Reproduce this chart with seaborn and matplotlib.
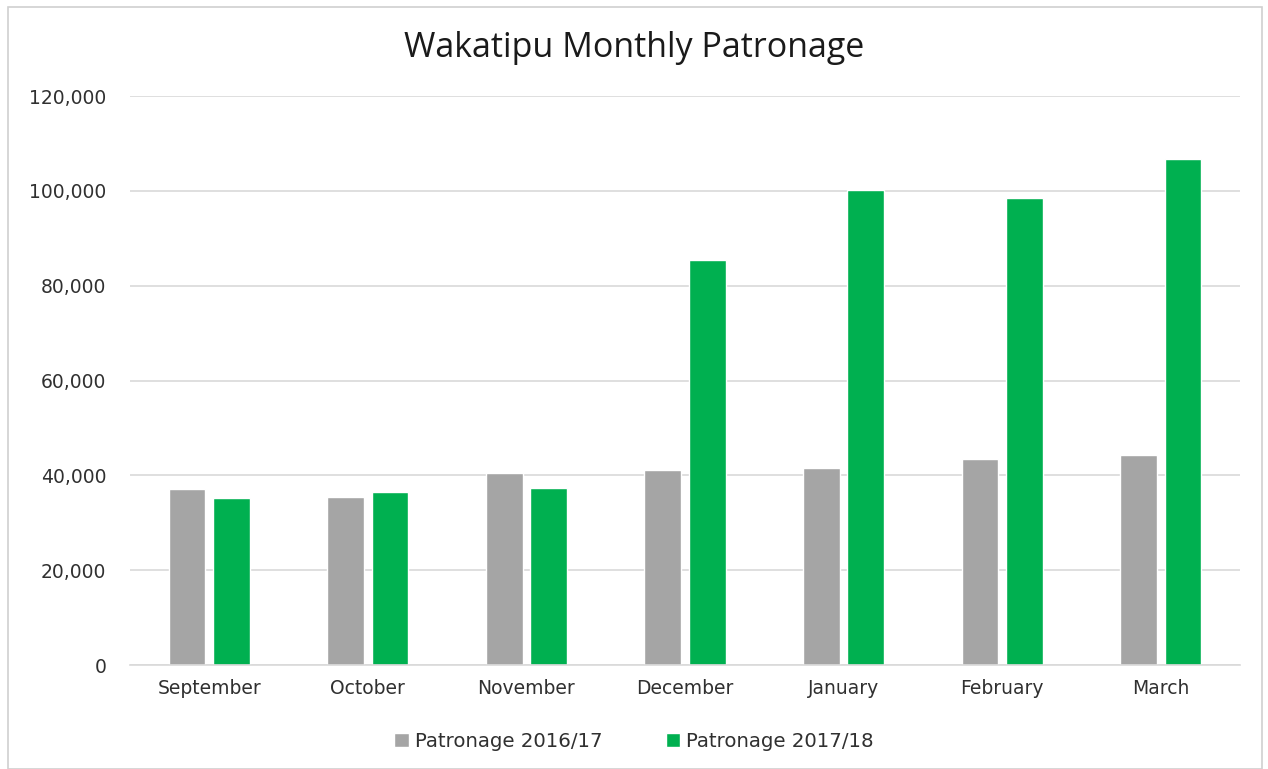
import matplotlib
matplotlib.use("Agg")
import matplotlib.pyplot as plt
import seaborn as sns
import pandas as pd
from matplotlib.patches import Rectangle
from matplotlib.ticker import FuncFormatter

months = ["September", "October", "November", "December", "January", "February", "March"]
patronage_2016_17 = [37050, 35500, 40400, 41100, 41600, 43500, 44200]
patronage_2017_18 = [35200, 36600, 37400, 85500, 100100, 98600, 106800]
series_names = ["Patronage 2016/17", "Patronage 2017/18"]
y_ticks = [0, 20000, 40000, 60000, 80000, 100000, 120000]

df = pd.DataFrame({
    "Month": months * 2,
    "Series": [series_names[0]] * len(months) + [series_names[1]] * len(months),
    "Value": patronage_2016_17 + patronage_2017_18,
})

sns.set_theme(style="white")
plt.rcParams['font.family'] = ['DejaVu Sans']

fig = plt.figure(figsize=(12.68, 7.69), dpi=100)
ax = fig.add_axes([0.1025, 0.1352, 0.8755, 0.7398])

sns.barplot(data=df, x="Month", y="Value", hue="Series", order=months,
            hue_order=series_names, palette=["#A5A5A5", "#00B050"],
            width=0.56, gap=0.17, saturation=1, ax=ax, legend=True)

ax.set_ylim(0, 120000)
ax.set_yticks(y_ticks)
ax.yaxis.set_major_formatter(FuncFormatter(lambda v, p: f"{int(v):,}"))
ax.grid(axis="y", color="#D9D9D9", linewidth=1.2)
ax.set_axisbelow(True)
for s in ["left", "right", "top"]:
    ax.spines[s].set_visible(False)
ax.spines["bottom"].set_color("#D9D9D9")
ax.spines["bottom"].set_linewidth(1.2)
ax.set_xlabel("")
ax.set_ylabel("")
ax.tick_params(axis="both", length=0, labelsize=13.5, colors="#303030")
ax.tick_params(axis="x", pad=10)
ax.tick_params(axis="y", pad=17)
ax.set_xlim(-0.5, 6.5)

ax.legend_.remove()
handles, labels = ax.get_legend_handles_labels()
fig.legend(handles, labels, loc="center", bbox_to_anchor=(0.5, 0.036), ncol=2,
           frameon=False, fontsize=14.2, handlelength=0.75, handleheight=0.75,
           columnspacing=3.2, handletextpad=0.3, labelcolor="#303030")

fig.text(0.5, 0.938, "Wakatipu Monthly Patronage", ha="center", va="center",
         fontsize=24.5, color="#1a1a1a", family=["Open Sans", "DejaVu Sans"])

fig.patches.append(Rectangle((0.006, 0.0), 0.989, 0.991, transform=fig.transFigure,
                             fill=False, edgecolor="#D0D0D0", linewidth=1.2))

fig.savefig("out.png", dpi=100)
